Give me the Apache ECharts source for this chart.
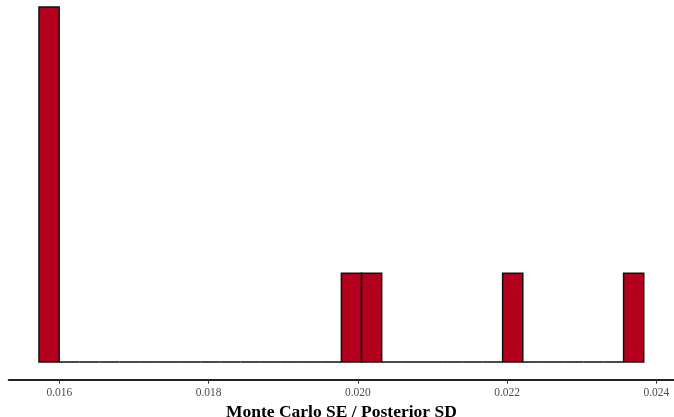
<!DOCTYPE html>
<html>
<head>
<meta charset="utf-8">
<script src="https://cdn.jsdelivr.net/npm/echarts@6/dist/echarts.min.js"></script>
<style>
  html, body { margin: 0; padding: 0; background: #fff; }
  #chart { width: 674px; height: 417px; }
</style>
</head>
<body>
<div id="chart"></div>
<script>
// Histogram of Monte Carlo SE / posterior SD ratios (30 bins)
const binStart = 0.0157267;
const binWidth = 0.00027013;
const binCounts = [4, 0, 0, 0, 0, 0, 0, 0, 0, 0,
                   0, 0, 0, 0, 0, 1, 1, 0, 0, 0,
                   0, 0, 0, 1, 0, 0, 0, 0, 0, 1];
const tickValues = [0.016, 0.018, 0.020, 0.022, 0.024];
const xRange = [0.015322, 0.024236];
const yRange = [-0.2, 4];

const bins = binCounts.map((c, i) => [binStart + i * binWidth, binStart + (i + 1) * binWidth, c]);

const chart = echarts.init(document.getElementById('chart'), null, { renderer: 'canvas' });
chart.setOption({
  animation: false,
  grid: { left: 8.8, right: 0, top: 7, bottom: 37.3, containLabel: false, outerBoundsMode: 'none' },
  xAxis: {
    type: 'value',
    min: xRange[0],
    max: xRange[1],
    splitLine: { show: false },
    axisLine: { show: true, onZero: false, lineStyle: { color: '#222', width: 2.2 } },
    axisTick: { show: true, customValues: tickValues, length: 4, lineStyle: { color: '#333', width: 1 } },
    axisLabel: {
      customValues: tickValues,
      formatter: v => v.toFixed(3),
      fontFamily: 'Liberation Serif',
      fontSize: 11.5,
      color: '#4d4d4d',
      margin: 7
    },
    name: 'Monte Carlo SE / Posterior SD',
    nameLocation: 'middle',
    nameGap: 19,
    nameTextStyle: { fontFamily: 'Liberation Serif', fontWeight: 'bold', fontSize: 17.5, color: '#000' }
  },
  yAxis: {
    type: 'value',
    min: yRange[0],
    max: yRange[1],
    show: false,
    splitLine: { show: false }
  },
  series: [{
    type: 'custom',
    data: bins,
    encode: { x: [0, 1], y: 2 },
    renderItem: (params, api) => {
      const p0 = api.coord([api.value(0), 0]);
      const p1 = api.coord([api.value(1), api.value(2)]);
      return {
        type: 'rect',
        shape: { x: p0[0], y: p1[1], width: p1[0] - p0[0], height: p0[1] - p1[1] },
        style: { fill: '#b2001d', stroke: '#111', lineWidth: 1.5 }
      };
    }
  }]
});
</script>
</body>
</html>
